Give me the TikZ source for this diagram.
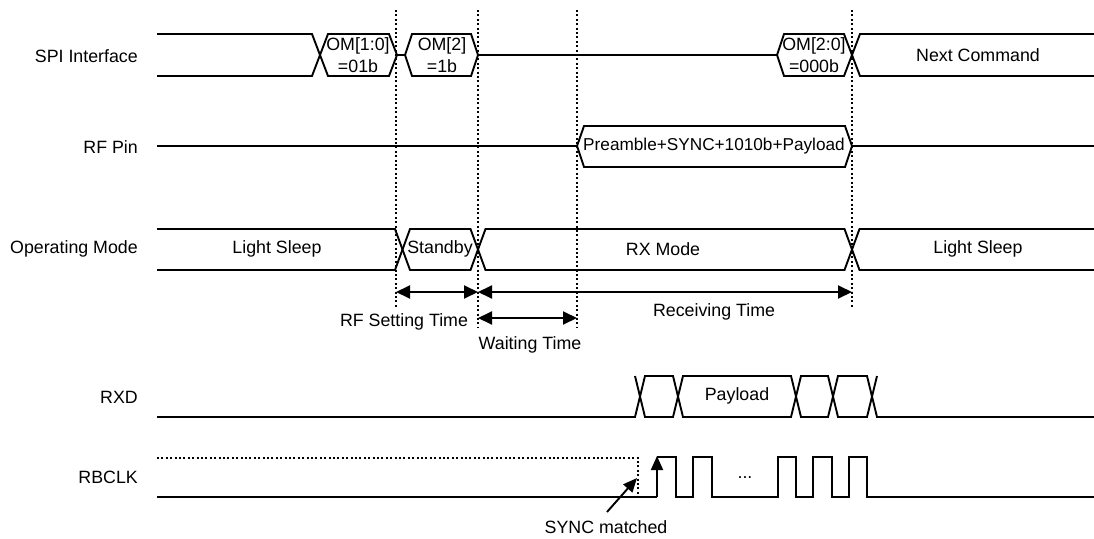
\documentclass[tikz,border=0pt]{standalone}
\usepackage{fontspec}
\setmainfont{Liberation Sans}
\usetikzlibrary{arrows.meta}

\begin{document}
\begin{tikzpicture}[x=1pt,y=-1pt,
  sig/.style={line width=1.9pt, line join=miter},
  thinsig/.style={line width=1.4pt},
  marker/.style={line width=1.7pt, dash pattern=on 2pt off 2.4pt},
  tip/.style={-{Triangle[length=14pt,width=12pt]}},
  span/.style={line width=1.9pt, {Triangle[length=14pt,width=13pt]}-{Triangle[length=14pt,width=13pt]}},
  txt/.style={font=\fontsize{17.8}{21.5}\selectfont, inner sep=0pt, align=center},
  rowname/.style={txt, anchor=east},
]
\useasboundingbox (0,0) rectangle (1094,538);
\fill[white] (0,0) rectangle (1094,538);

% ---- signal names ----
\node[rowname] (nSPI) at (138,56)  {SPI Interface};
\node[rowname] (nRF)  at (138,147) {RF Pin};
\node[rowname] (nOM)  at (138,249) {Operating Mode};
\node[rowname] (nRXD) at (138,397) {RXD};
\node[rowname] (nCLK) at (138,477) {RBCLK};

% ---- time markers ----
\coordinate (m1top) at (396,10);  \coordinate (m1bot) at (396,307);
\coordinate (m2top) at (478,10);  \coordinate (m2bot) at (478,328);
\coordinate (m3top) at (577,10);  \coordinate (m3bot) at (577,328);
\coordinate (m4top) at (852,10);  \coordinate (m4bot) at (852,307);
\draw[marker] (m1top) -- (m1bot);
\draw[marker] (m2top) -- (m2bot);
\draw[marker] (m3top) -- (m3bot);
\draw[marker] (m4top) -- (m4bot);

% ---- SPI interface ----
\draw[sig] (157,34) -- (312,34) -- (328,76) -- (389,76) -- (397,55) -- (405,55)
  -- (412,76) -- (471,76) -- (478,55) -- (777,55) -- (784,76) -- (844,76)
  -- (860,34) -- (1094,34);
\draw[sig] (157,76) -- (312,76) -- (328,34) -- (389,34) -- (397,55);
\draw[sig] (405,55) -- (412,34) -- (471,34) -- (478,55);
\draw[sig] (777,55) -- (784,34) -- (844,34) -- (860,76) -- (1094,76);
\node[txt] (om10) at (358,55) {OM[1:0]\\=01b};
\node[txt] (om2)  at (442,55) {OM[2]\\=1b};
\node[txt] (om20) at (814,55) {OM[2:0]\\=000b};
\node[txt] (next) at (978,55) {Next Command};

% ---- RF pin ----
\draw[thinsig] (157,146) -- (577,146);
\draw[sig] (577,146) -- (584,126) -- (845,126) -- (852,146) -- (845,167) -- (584,167) -- cycle;
\draw[thinsig] (852,146) -- (1094,146);
\node[txt, font=\fontsize{17.2}{21}\selectfont] (pkt) at (714,146) {Preamble+SYNC+1010b+Payload};

% ---- operating mode ----
\draw[sig] (157,229) -- (395,229) -- (410,270) -- (470.5,270) -- (485.5,229)
  -- (844.5,229) -- (859.5,270) -- (1094,270);
\draw[sig] (157,270) -- (395,270) -- (410,229) -- (470.5,229) -- (485.5,270)
  -- (844.5,270) -- (859.5,229) -- (1094,229);
\node[txt] (ls1) at (277,249) {Light Sleep};
\node[txt] (stb) at (440,249) {Standby};
\node[txt] (rxm) at (663,249) {RX Mode};
\node[txt] (ls2) at (978,249) {Light Sleep};

% ---- time spans ----
\coordinate (rfA) at (396,292); \coordinate (rfB) at (478,292);
\coordinate (rcA) at (478,292); \coordinate (rcB) at (852,292);
\coordinate (wtA) at (478,318); \coordinate (wtB) at (577,318);
\draw[span] (rfA) -- (rfB);
\draw[span] (rcA) -- (rcB);
\draw[span] (wtA) -- (wtB);
\node[txt] (rfT) at (404,322) {RF Setting Time};
\node[txt] (rcT) at (714,312) {Receiving Time};
\node[txt] (wtT) at (530,345) {Waiting Time};

% ---- RXD ----
\draw[sig] (157,417) -- (635,417) -- (645,376) -- (673,376) -- (683,417) -- (791,417)
  -- (801,376) -- (828,376) -- (838,417) -- (867,417) -- (877,376);
\draw[sig] (635,376) -- (645,417) -- (673,417) -- (683,376) -- (791,376) -- (801,417)
  -- (828,417) -- (838,376) -- (867,376) -- (877,417) -- (1094,417);
\node[txt] (pay) at (737,396) {Payload};

% ---- RBCLK ----
\draw[marker] (157,458) -- (638,458) -- (638,497);
\draw[sig] (157,497) -- (657,497);
\draw[sig,tip] (657,497) -- (657,456);
\draw[sig] (657,457) -- (676,457) -- (676,497) -- (693,497) -- (693,457) -- (712,457)
  -- (712,497) -- (778,497) -- (778,457) -- (796,457) -- (796,497) -- (813,497)
  -- (813,457) -- (832,457) -- (832,497) -- (849,497) -- (849,457) -- (867,457)
  -- (867,497) -- (1094,497);
\node[font=\fontsize{17.8}{20}\selectfont, inner sep=0pt] (dots) at (745,478) {...};

% ---- sync marker ----
\node[txt] (sync) at (606,527) {SYNC matched};
\coordinate (syncTail) at (607,512);
\coordinate (syncTip) at (637,478);
\draw[sig,tip] (syncTail) -- (syncTip);
\end{tikzpicture}
\end{document}
